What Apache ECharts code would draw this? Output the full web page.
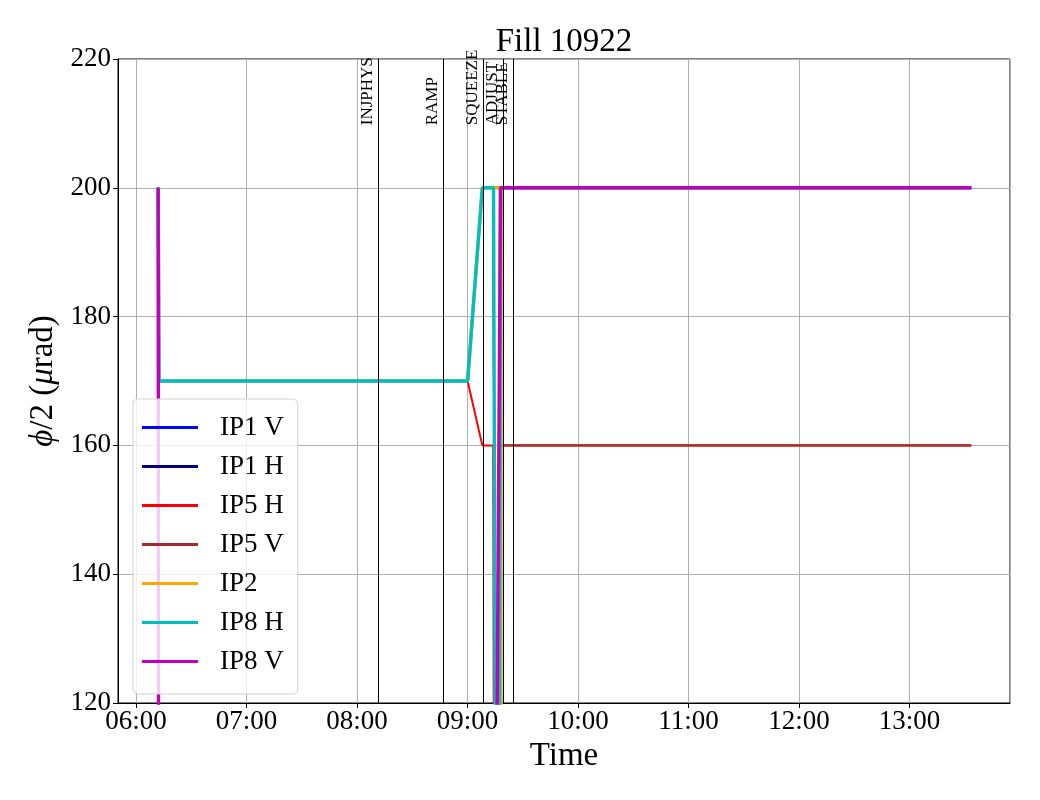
<!DOCTYPE html>
<html>
<head>
<meta charset="utf-8">
<script src="https://cdn.jsdelivr.net/npm/echarts@6/dist/echarts.min.js"></script>
<style>
  html, body { margin: 0; padding: 0; background: #fff; }
  #main { width: 1040px; height: 800px; }
</style>
</head>
<body>
<div id="main"></div>
<script>
// crossing angle per IP, Fill 10922
const day = [2025, 6, 10];
function t(s) {
  const p = s.split(":").map(Number);
  return Date.UTC(day[0], day[1], day[2], p[0], p[1], p[2] || 0);
}

const eventNames = ["INJPHYS", "RAMP", "SQUEEZE", "ADJUST", "STABLE"];
const eventTimes = ["08:11:24", "08:46:42", "09:08:24", "09:19:30", "09:24:54"];

const ip1vTimes = ["06:12:00", "06:12:30", "09:00:00", "09:08:00", "09:14:00", "09:16:10", "09:17:50", "13:33:30"];
const ip1vValues = [200, 170, 170, 200, 200, 0, 200, 200];
const ip1hTimes = ["06:12:00", "06:12:30", "09:00:00", "09:08:00", "09:14:00", "09:16:10", "09:17:50", "13:33:30"];
const ip1hValues = [200, 170, 170, 200, 200, 0, 200, 200];
const ip5hTimes = ["06:12:00", "06:12:30", "09:00:00", "09:08:00", "09:13:54", "09:15:00", "09:17:48", "13:33:30"];
const ip5hValues = [200, 170, 170, 160, 160, 0, 160, 160];
const ip5vTimes = ["06:12:00", "06:12:30", "09:13:00", "09:17:48", "13:33:30"];
const ip5vValues = [200, 0, 0, 160, 160];
const ip2Times = ["06:12:00", "06:12:30", "09:00:00", "09:08:00", "09:17:50", "09:18:00", "09:18:10", "13:33:30"];
const ip2Values = [200, 170, 170, 200, 200, 0, 200, 200];
const ip8hTimes = ["06:12:00", "06:12:30", "09:00:00", "09:08:00", "09:14:06", "09:16:12", "09:17:54", "13:33:30"];
const ip8hValues = [200, 170, 170, 200, 200, 0, 200, 200];
const ip8vTimes = ["06:12:00", "06:12:30", "09:13:20", "09:17:54", "13:33:30"];
const ip8vValues = [200, 0, 0, 200, 200];

const serif = "Liberation Serif";

function pairs(ts, vs) {
  return ts.map((s, i) => [t(s), vs[i]]);
}

function mkSeries(name, ts, vs, color, width) {
  return {
    name: name,
    type: "line",
    data: pairs(ts, vs),
    showSymbol: false,
    symbol: "none",
    clip: true,
    animation: false,
    lineStyle: { color: color, width: width },
    itemStyle: { color: color }
  };
}

let chart = echarts.init(document.getElementById("main"), null, { renderer: "canvas" });

let series = [
  mkSeries("IP1 V", ip1vTimes, ip1vValues, "#0000ff", 2),
  mkSeries("IP1 H", ip1hTimes, ip1hValues, "#000080", 2),
  mkSeries("IP5 H", ip5hTimes, ip5hValues, "#ff0000", 2),
  mkSeries("IP5 V", ip5vTimes, ip5vValues, "#a52a2a", 2.4),
  mkSeries("IP2", ip2Times, ip2Values, "#ffa500", 3.4),
  mkSeries("IP8 H", ip8hTimes, ip8hValues, "#00bfbf", 3.4),
  mkSeries("IP8 V", ip8vTimes, ip8vValues, "#bf00bf", 3.4)
];

// event lines (full height)
series[0].markLine = {
  silent: true,
  symbol: "none",
  animation: false,
  label: { show: false },
  lineStyle: { color: "#000", width: 1, type: "solid" },
  data: eventTimes.map(s => ({ xAxis: t(s) }))
};
// event labels, written upward from just below 210
series[1].markLine = {
  silent: true,
  symbol: "none",
  animation: false,
  lineStyle: { color: "rgba(0,0,0,0)", width: 1 },
  label: {
    show: true,
    position: "insideStartTop",
    distance: 2,
    color: "#000",
    fontFamily: serif,
    fontSize: 17,
    formatter: p => p.name
  },
  data: eventTimes.map((s, i) => [
    { name: eventNames[i], coord: [t(s), 209.4] },
    { coord: [t(s), 220] }
  ])
};

chart.setOption({
  useUTC: true,
  animation: false,
  backgroundColor: "#fff",
  title: {
    text: "Fill 10922",
    left: 559,
    top: 21,
    textAlign: "center",
    textStyle: { fontFamily: serif, fontSize: 33, fontWeight: "normal", color: "#000" }
  },
  legend: {
    orient: "vertical",
    left: 133,
    top: 399,
    data: ["IP1 V", "IP1 H", "IP5 H", "IP5 V", "IP2", "IP8 H", "IP8 V"],
    icon: "rect",
    itemWidth: 56,
    itemHeight: 3,
    itemGap: 12,
    padding: [15, 14, 19, 9],
    backgroundColor: "rgba(255,255,255,0.8)",
    borderColor: "#d0d0d0",
    borderWidth: 1,
    borderRadius: 5,
    textStyle: { fontFamily: serif, fontSize: 27, color: "#000", lineHeight: 26, padding: [0, 0, 0, 17] }
  },
  grid: {
    left: 118,
    right: 30,
    top: 59,
    bottom: 97,
    show: true,
    borderColor: "#000",
    borderWidth: 1,
    backgroundColor: "transparent"
  },
  xAxis: {
    type: "time",
    min: t("05:50:12"),
    max: t("13:54:30"),
    minInterval: 3600 * 1000,
    maxInterval: 3600 * 1000,
    name: "Time",
    nameLocation: "middle",
    nameGap: 31,
    nameTextStyle: { fontFamily: serif, fontSize: 33, color: "#000" },
    axisLine: { show: true, lineStyle: { color: "#000", width: 1 } },
    axisTick: { show: true, length: 5, lineStyle: { color: "#000" } },
    minorTick: { show: false },
    axisLabel: {
      formatter: "{HH}:{mm}",
      fontFamily: serif,
      fontSize: 27,
      color: "#000",
      margin: 5,
      showMinLabel: false,
      showMaxLabel: false
    },
    splitLine: { show: true, lineStyle: { color: "#b0b0b0", width: 1 } }
  },
  yAxis: {
    type: "value",
    min: 120,
    max: 220,
    interval: 20,
    name: "{i|ϕ}/2 ({i|μ}rad)",
    nameLocation: "middle",
    nameGap: 58,
    nameTextStyle: {
      fontFamily: serif,
      fontSize: 33,
      color: "#000",
      rich: { i: { fontFamily: serif, fontSize: 33, fontStyle: "italic", color: "#000" } }
    },
    axisLine: { show: true, lineStyle: { color: "#000", width: 1 } },
    axisTick: { show: true, length: 5, lineStyle: { color: "#000" } },
    axisLabel: { fontFamily: serif, fontSize: 27, color: "#000", margin: 7 },
    splitLine: { show: true, lineStyle: { color: "#b0b0b0", width: 1 } }
  },
  series: series
});

window.onresize = function() {
  chart.resize();
};
</script>
</body>
</html>
